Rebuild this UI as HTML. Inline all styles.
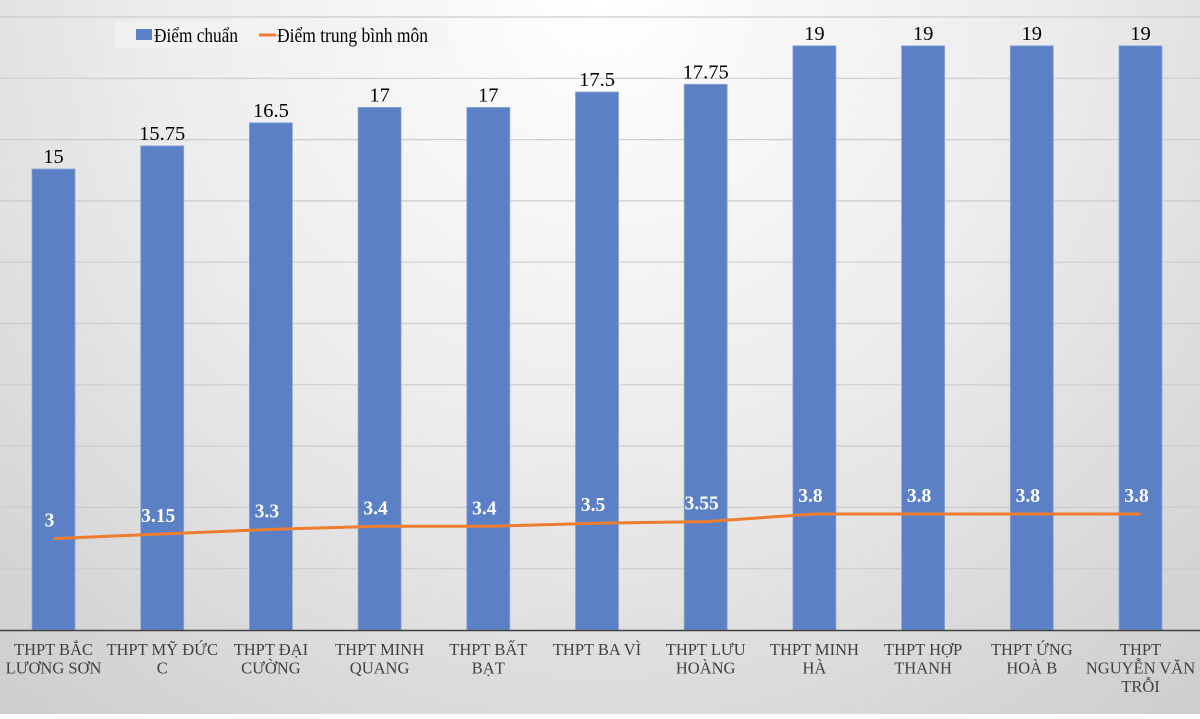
<!DOCTYPE html>
<html><head><meta charset="utf-8"><style>
html,body{margin:0;padding:0}
body{width:1200px;height:714px;overflow:hidden}
svg text{font-family:"Liberation Serif",serif}
</style></head><body>
<svg id="c" width="1200" height="714" xmlns="http://www.w3.org/2000/svg">
<defs>
<radialGradient id="bg" cx="600" cy="0" r="900" gradientUnits="userSpaceOnUse">
<stop offset="0" stop-color="#ffffff"/><stop offset="0.5" stop-color="#ececec"/><stop offset="1" stop-color="#cfcfcf"/>
</radialGradient>
</defs>
<rect width="1200" height="714" fill="url(#bg)"/>
<g id="g"></g>
</svg>
<script>
const g=document.getElementById('g');
const bars=[15,15.75,16.5,17,17,17.5,17.75,19,19,19,19];
const line=[3,3.15,3.3,3.4,3.4,3.5,3.55,3.8,3.8,3.8,3.8];
const lineL=["3","3.15","3.3","3.4","3.4","3.5","3.55","3.8","3.8","3.8","3.8"];
const cats=[["THPT BẮC","LƯƠNG SƠN"],["THPT MỸ ĐỨC","C"],["THPT ĐẠI","CƯỜNG"],["THPT MINH","QUANG"],["THPT BẤT","BẠT"],["THPT BA VÌ"],["THPT LƯU","HOÀNG"],["THPT MINH","HÀ"],["THPT HỢP","THANH"],["THPT ỨNG","HOÀ B"],["THPT","NGUYỄN VĂN","TRỖI"]];
const Y=v=>631-v*30.8;
const X=i=>53.5+i*108.7;
let s='';
for(let k=0;k<10;k++){const y=630-(k+1)*61.3;s+=`<line x1="0" x2="1200" y1="${y}" y2="${y}" stroke="#cccccc" stroke-width="1.2"/>`;}
bars.forEach((v,i)=>{const x=X(i);s+=`<rect x="${x-21.5}" y="${Y(v)}" width="43" height="${630-Y(v)}" fill="#5b80c6" stroke="#8aa6da" stroke-width="0.8"/>`;
s+=`<text x="${x}" y="${Y(v)-6}" font-size="20.5" text-anchor="middle" fill="#000">${v}</text>`;});
s+=`<line x1="0" x2="1200" y1="630.5" y2="630.5" stroke="#404040" stroke-width="1.5"/>`;
s+=`<polyline fill="none" stroke="#ed7d31" stroke-width="3" points="${line.map((v,i)=>X(i)+','+Y(v)).join(' ')}"/>`;
line.forEach((v,i)=>{s+=`<text x="${X(i)-4}" y="${Y(v)-12}" font-size="19.5" font-weight="bold" text-anchor="middle" fill="#fff">${lineL[i]}</text>`;});
cats.forEach((c,i)=>{c.forEach((t,j)=>{s+=`<text x="${X(i)}" y="${655+j*18.5}" font-size="16.5" text-anchor="middle" fill="#404040">${t}</text>`;});});
s+=`<rect x="114" y="21" width="333" height="27" fill="#f2f2f2" opacity="0.8"/>`;
s+=`<rect x="136" y="29" width="16" height="11" fill="#5b80c6"/><text x="154" y="42" font-size="20.5" fill="#000" textLength="84" lengthAdjust="spacingAndGlyphs">Điểm chuẩn</text>`;
s+=`<line x1="259" x2="276" y1="35" y2="35" stroke="#ed7d31" stroke-width="3"/><text x="277" y="42" font-size="20.5" fill="#000" textLength="151" lengthAdjust="spacingAndGlyphs">Điểm trung bình môn</text>`;
g.innerHTML=s;
</script>
</body></html>
